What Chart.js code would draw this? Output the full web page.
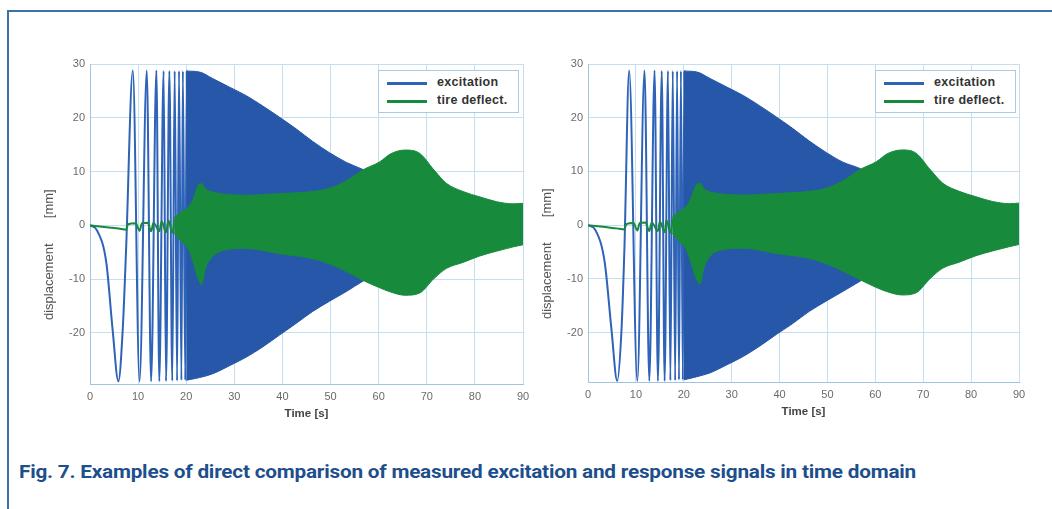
<!DOCTYPE html>
<html><head><meta charset="utf-8">
<script src="https://cdn.jsdelivr.net/npm/chart.js@4.4.1/dist/chart.umd.min.js"></script>
<style>
html,body{margin:0;padding:0;background:#fff;width:1052px;height:509px;overflow:hidden;position:relative;font-family:"Liberation Sans",Arial,sans-serif;}
.frameTop{position:absolute;left:7px;top:10px;width:1045px;height:2px;background:#3d70a6;}
.frameLeft{position:absolute;left:7px;top:10px;width:2px;height:499px;background:#3d70a6;}
canvas{position:absolute;}
.legend{position:absolute;border:1px solid #a9cbe6;background:#fff;width:139px;height:41px;}
.lg-line{position:absolute;left:8px;width:40px;height:3px;}
.lg-text{position:absolute;left:58px;font:bold 12.5px "Liberation Sans",Arial,sans-serif;color:#333;white-space:nowrap;letter-spacing:0.3px;}
#caption{position:absolute;left:19px;top:460px;font:bold 19px Roboto,"Liberation Sans",sans-serif;color:#1d4f8c;white-space:nowrap;transform-origin:0 0;letter-spacing:-0.2px;}
</style></head>
<body>
<div class="frameTop"></div><div class="frameLeft"></div>
<canvas id="cL" width="500" height="390" style="left:40px;top:40px"></canvas>
<canvas id="cR" width="498" height="390" style="left:538px;top:40px"></canvas>
<div class="legend" style="left:378px;top:70px">
  <div class="lg-line" style="top:11px;background:#2e63b8"></div><div class="lg-text" style="top:4px">excitation</div>
  <div class="lg-line" style="top:29px;background:#178a3c"></div><div class="lg-text" style="top:22px">tire deflect.</div>
</div>
<div class="legend" style="left:875px;top:70px">
  <div class="lg-line" style="top:11px;background:#2e63b8"></div><div class="lg-text" style="top:4px">excitation</div>
  <div class="lg-line" style="top:29px;background:#178a3c"></div><div class="lg-text" style="top:22px">tire deflect.</div>
</div>
<div id="caption">Fig. 7. Examples of direct comparison of measured excitation and response signals in time domain</div>
<script>
// ---- tick labels ----
const xTicks = [0, 10, 20, 30, 40, 50, 60, 70, 80, 90];
const yTicks = [-20, -10, 0, 10, 20, 30];
const seriesNames = ['excitation', 'tire deflect.'];

// ---- left panel: excitation, individual oscillations (s, mm) ----
const L_excT = [0, 1.5, 3.4, 4.7, 5.9, 6.8, 7.5, 8.9, 10.3, 11.8, 12.7, 13.8, 14.4, 15.3, 15.8, 16.5, 17.1, 17.6, 18.1, 18.5, 19.0, 19.3, 19.8, 20.1, 20.4];
const L_excV = [0, -1, -7, -19.4, -29.0, -19.4, -4.5, 28.8, -29.0, 28.8, -29.0, 28.8, -29.0, 28.7, -29.0, 28.7, -28.9, 28.7, -28.9, 28.7, -28.8, 28.7, -28.8, 28.6, -28.7];
// excitation envelope (dense part)
const L_envT = [20.0, 22.8, 25.5, 29.0, 32.5, 35.9, 39.4, 42.9, 46.3, 49.8, 53.3, 56.7, 60, 65, 70, 80, 90];
const L_envUp = [28.7, 28.5, 27.3, 25.7, 24.1, 22.2, 20.1, 17.9, 15.6, 13.5, 11.7, 10.4, 8.8, 6.5, 4.5, 2.0, 1.0];
const L_envLo = [-28.8, -28.3, -27.6, -26.1, -24.5, -22.6, -20.4, -18.2, -16.0, -14.1, -12.3, -10.4, -8.8, -6.5, -4.5, -2.0, -1.0];
// tire deflection, early line
const L_defT = [0, 2, 4, 6, 7.5, 7.9, 9.5, 10.3, 10.8, 12.0, 12.7, 13.2, 14.4, 14.9, 15.8, 16.3, 17.1, 17.6];
const L_defV = [0, -0.2, -0.4, -0.6, -0.8, 0.2, 0.4, -1.0, 0.4, 0.5, -1.1, 0.5, -1.1, 0.7, -1.3, 0.9, -1.4, 1.1];
// tire deflection envelope
const L_dEnvT = [17.5, 19, 20.5, 21.5, 22.5, 23.2, 24.0, 25.5, 28.0, 32.5, 39.4, 46.3, 49.8, 53.3, 56.7, 60.2, 62.5, 65.5, 68.5, 71.5, 74.1, 77.5, 81.0, 84.5, 88.0, 90.0];
const L_dEnvUp = [1.5, 2.5, 3.5, 5.0, 7.5, 7.8, 6.8, 6.2, 5.8, 5.6, 5.9, 6.3, 6.9, 8.3, 10.3, 11.8, 13.3, 14.0, 13.4, 10.3, 7.8, 6.3, 5.3, 4.4, 4.0, 4.1];
const L_dEnvLo = [-1.5, -3.0, -4.5, -7.0, -10.0, -11.0, -8.0, -5.8, -4.6, -4.3, -5.3, -6.2, -7.2, -8.6, -10.2, -11.6, -12.4, -13.0, -12.6, -9.9, -8.0, -6.9, -5.7, -4.8, -4.0, -3.6];

// ---- right panel ----
const R_excT = [0, 1.6, 3.5, 4.9, 6.1, 7.0, 7.6, 8.6, 10.3, 11.8, 12.8, 13.9, 14.6, 15.4, 16.0, 16.7, 17.2, 17.7, 18.2, 18.6, 19.0, 19.4, 19.8, 20.1, 20.4];
const R_excV = [0, -1, -7, -19.4, -29.0, -19.4, -4.5, 28.8, -29.0, 28.8, -29.0, 28.8, -29.0, 28.7, -29.0, 28.7, -28.9, 28.7, -28.9, 28.7, -28.8, 28.7, -28.8, 28.6, -28.7];
const R_envT = [20.0, 22.8, 25.5, 29.0, 32.5, 35.9, 39.4, 42.3, 46.3, 49.8, 53.3, 56.9, 60, 65, 70, 80, 90];
const R_envUp = [28.7, 28.5, 27.3, 25.7, 24.1, 22.2, 20.1, 18.3, 15.6, 13.5, 11.7, 10.5, 8.8, 6.5, 4.5, 2.0, 1.0];
const R_envLo = [-28.8, -28.2, -27.5, -26.0, -24.4, -22.5, -20.3, -18.6, -16.0, -14.1, -12.3, -10.4, -8.8, -6.5, -4.5, -2.0, -1.0];
const R_defT = [0, 2, 4, 6, 7.6, 8.0, 9.5, 10.3, 10.8, 12.0, 12.8, 13.3, 14.6, 15.0, 16.0, 16.4, 17.2, 17.7];
const R_defV = [0, -0.2, -0.4, -0.6, -0.8, 0.2, 0.4, -1.0, 0.4, 0.5, -1.1, 0.5, -1.1, 0.7, -1.3, 0.9, -1.4, 1.1];
const R_dEnvT = [17.6, 19, 20.5, 21.5, 22.6, 23.4, 24.2, 25.5, 28.0, 32.5, 39.4, 46.3, 49.8, 53.3, 56.9, 60.2, 62.5, 65.6, 68.5, 71.5, 74.1, 77.5, 81.0, 84.5, 88.0, 90.0];
const R_dEnvUp = [1.5, 2.5, 3.5, 5.0, 7.5, 7.8, 6.8, 6.2, 5.8, 5.6, 5.9, 6.3, 6.9, 8.3, 10.4, 11.8, 13.3, 14.0, 13.4, 10.3, 7.8, 6.3, 5.3, 4.4, 4.0, 4.1];
const R_dEnvLo = [-1.5, -3.0, -4.5, -7.0, -10.0, -11.0, -8.0, -5.8, -4.6, -4.3, -5.3, -6.2, -7.2, -8.6, -10.2, -11.6, -12.4, -13.0, -12.6, -9.9, -8.0, -6.9, -5.7, -4.8, -4.0, -3.6];

const BLUE_LINE = '#2e63b8', BLUE_FILL = '#2757a8', GREEN = '#178a3c';
const GRID = '#c6dff0', AXIS = '#9fc4e0';

function pts(T, V) { return T.map((t, i) => ({ x: t, y: V[i] })); }

function lineDs(label, T, V, color, width, order, fill) {
  return {
    label, data: pts(T, V), borderColor: color, backgroundColor: color,
    borderWidth: width, pointRadius: 0, order, fill: fill || false,
    cubicInterpolationMode: 'monotone'
  };
}

function makeChart(id, d, geom) {
  const ctx = document.getElementById(id);
  return new Chart(ctx, {
    type: 'line',
    data: {
      datasets: [
        lineDs(seriesNames[1], d.dEnvT, d.dEnvUp, GREEN, 1, 0, '+1'),
        lineDs(seriesNames[1], d.dEnvT, d.dEnvLo, GREEN, 1, 0),
        lineDs(seriesNames[1], d.defT, d.defV, GREEN, 2, 0),
        lineDs(seriesNames[0], d.envT, d.envUp, BLUE_FILL, 1, 1, '+1'),
        lineDs(seriesNames[0], d.envT, d.envLo, BLUE_FILL, 1, 1),
        lineDs(seriesNames[0], d.excT, d.excV, BLUE_LINE, 2, 1)
      ]
    },
    options: {
      responsive: false, animation: false, devicePixelRatio: 1,
      layout: { padding: { left: 0, right: geom.padRight, top: geom.padTop, bottom: geom.padBottom } },
      plugins: { legend: { display: false }, tooltip: { enabled: false } },
      scales: {
        x: {
          type: 'linear', min: 0, max: 90,
          afterBuildTicks: s => { s.ticks = xTicks.map(v => ({ value: v })); },
          afterFit: s => { s.height = geom.xHeight; s.paddingLeft = 0; s.paddingRight = 0; },
          grid: { color: GRID, drawTicks: false, lineWidth: 1 },
          border: { color: AXIS, width: 1 },
          ticks: { color: '#6a6a6a', font: { family: 'Liberation Sans', size: 11 }, padding: 6, maxRotation: 0 },
          title: { display: true, text: 'Time [s]', color: '#444', font: { family: 'Liberation Sans', size: 11.5, weight: 'bold' }, padding: { top: 2, bottom: 0 } }
        },
        y: {
          type: 'linear', min: geom.yMin, max: 30,
          afterBuildTicks: s => { s.ticks = yTicks.map(v => ({ value: v })); },
          afterFit: s => { s.width = geom.yWidth; s.paddingTop = 0; s.paddingBottom = 0; },
          grid: { color: GRID, drawTicks: false, lineWidth: 1 },
          border: { color: AXIS, width: 1 },
          ticks: { color: '#6a6a6a', font: { family: 'Liberation Sans', size: 11 }, padding: 5 },
          title: { display: true, text: 'displacement       [mm]' + '\u00a0'.repeat(17), color: '#555', font: { family: 'Liberation Sans', size: 13 }, padding: { top: 2, bottom: 0 } }
        }
      }
    }
  });
}

makeChart('cL', { excT: L_excT, excV: L_excV, envT: L_envT, envUp: L_envUp, envLo: L_envLo, defT: L_defT, defV: L_defV, dEnvT: L_dEnvT, dEnvUp: L_dEnvUp, dEnvLo: L_dEnvLo },
  { padRight: 17, padTop: 24, padBottom: 9, xHeight: 37, yWidth: 50, yMin: -29.5 });
makeChart('cR', { excT: R_excT, excV: R_excV, envT: R_envT, envUp: R_envUp, envLo: R_envLo, defT: R_defT, defV: R_defV, dEnvT: R_dEnvT, dEnvUp: R_dEnvUp, dEnvLo: R_dEnvLo },
  { padRight: 17, padTop: 24, padBottom: 11, xHeight: 37, yWidth: 50, yMin: -29.2 });

// fit caption width to reference
const cap = document.getElementById('caption');
const w = cap.getBoundingClientRect().width;
cap.style.transform = 'scaleX(' + (897 / w) + ')';
</script>
</body></html>
